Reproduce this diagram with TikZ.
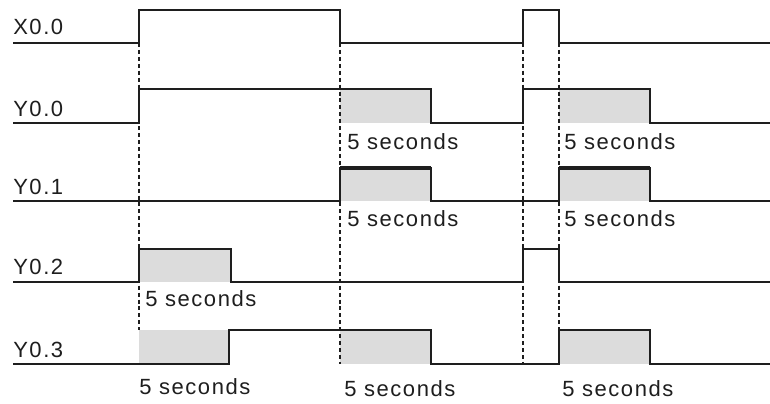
\documentclass[tikz,border=0pt]{standalone}
\usepackage{fontspec}
\newfontfamily\sigfont{Liberation Sans}[LetterSpace=7]
\definecolor{shade}{HTML}{DCDCDC}
\definecolor{ink}{HTML}{1E1E1E}

\begin{document}
\begin{tikzpicture}[x=0.75pt, y=-0.75pt,
      wave/.style={line width=1.5pt, draw=ink},
      thickwave/.style={line width=2.8pt, draw=ink},
      guide/.style={line width=1.4pt, draw=ink, dash pattern=on 3pt off 2.2pt},
      hold/.style={fill=shade, draw=none},
      lbl/.style={anchor=base west, inner sep=0pt, text=ink,
          font=\sigfont\fontsize{16.5}{19}\selectfont},
    ]
    \useasboundingbox (0,0) rectangle (770,403);

    %% --- Shaded timer intervals ---
    \fill[hold] (340,89)  rectangle (431,123);
    \fill[hold] (559,89)  rectangle (650,123);
    \fill[hold] (340,168) rectangle (431,201);
    \fill[hold] (559,168) rectangle (650,201);
    \fill[hold] (139,249) rectangle (231,282);
    \fill[hold] (139,330) rectangle (229,364);
    \fill[hold] (340,330) rectangle (431,364);
    \fill[hold] (559,330) rectangle (650,364);

    %% --- Edge guides ---
    \foreach \t/\e in {139/330, 340/364, 523/364, 559/330}
    \draw[guide] (\t,43) -- (\t,\e);

    %% --- Waveforms ---
    \draw[wave] (13,43) -- (139,43) -- (139,10) -- (340,10) -- (340,43)
    -- (523,43) -- (523,10) -- (559,10) -- (559,43) -- (770,43);
    \draw[wave] (13,123) -- (139,123) -- (139,89) -- (431,89) -- (431,123)
    -- (523,123) -- (523,89) -- (650,89) -- (650,123) -- (770,123);
    \draw[wave] (13,201) -- (340,201) -- (340,168) -- (431,168) -- (431,201)
    -- (559,201) -- (559,168) -- (650,168) -- (650,201) -- (770,201);
    \draw[thickwave] (340,168) -- (431,168);
    \draw[thickwave] (559,168) -- (650,168);
    \draw[wave] (13,282) -- (139,282) -- (139,249) -- (231,249) -- (231,282)
    -- (523,282) -- (523,249) -- (559,249) -- (559,282) -- (770,282);
    \draw[wave] (13,364) -- (229,364) -- (229,330) -- (431,330) -- (431,364)
    -- (559,364) -- (559,330) -- (650,330) -- (650,364) -- (770,364);

    %% --- Signal names ---
    \node[lbl] (x00) at (13,35)  {X0.0};
    \node[lbl] (y00) at (13,116) {Y0.0};
    \node[lbl] (y01) at (13,194) {Y0.1};
    \node[lbl] (y02) at (13,274) {Y0.2};
    \node[lbl] (y03) at (13,357) {Y0.3};

    %% --- Interval labels ---
    \node[lbl] (secA) at (347,149) {5 seconds};
    \node[lbl] (secB) at (564,149) {5 seconds};
    \node[lbl] (secC) at (347,226) {5 seconds};
    \node[lbl] (secD) at (564,226) {5 seconds};
    \node[lbl] (secE) at (145,306) {5 seconds};
    \node[lbl] (secF) at (139,394) {5 seconds};
    \node[lbl] (secG) at (344,396) {5 seconds};
    \node[lbl] (secH) at (562,396) {5 seconds};

  \end{tikzpicture}
\end{document}
